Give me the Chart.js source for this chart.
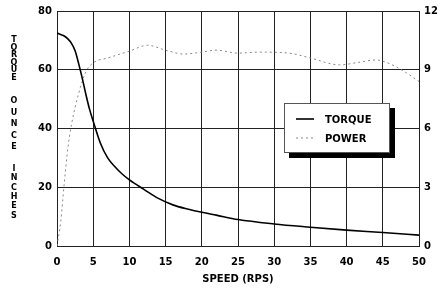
<!DOCTYPE html>
<html>
<head>
<meta charset="utf-8">
<script src="https://cdn.jsdelivr.net/npm/chart.js@4/dist/chart.umd.min.js"></script>
<style>
  html, body { margin: 0; padding: 0; background: #fff; }
  #wrap { width: 444px; height: 289px; }
</style>
</head>
<body>
<div id="wrap"><canvas id="motorChart" width="444" height="289"></canvas></div>
<script>
// torque curve (ounce-inches, left axis)
const torqueSpeed = [0, 0.5, 1, 1.5, 2, 2.5, 3, 3.5, 4, 4.5, 5, 6, 7, 8, 9, 10, 12, 14, 16, 18, 20, 22, 25, 30, 35, 40, 45, 50];
const torqueValues = [72.5, 72, 71.5, 70.5, 69, 66.5, 62, 57, 51.5, 46.5, 42.5, 35, 30, 27, 24.5, 22.5, 19.3, 16.2, 14, 12.6, 11.5, 10.5, 9, 7.5, 6.4, 5.4, 4.6, 3.7];

// power curve (right axis)
const powerSpeed = [0, 0.5, 1, 1.5, 2, 3, 4, 5, 7, 10, 12.5, 15, 17.5, 20, 22, 25, 28, 32, 35, 39, 42, 44, 46, 48, 50];
const powerValues = [0, 1.2, 3.2, 5, 6.2, 7.8, 8.9, 9.35, 9.6, 9.95, 10.25, 10, 9.8, 9.9, 10, 9.85, 9.9, 9.85, 9.6, 9.25, 9.4, 9.5, 9.3, 8.9, 8.4];

// axis ticks
const speedTicks = [0, 5, 10, 15, 20, 25, 30, 35, 40, 45, 50];
const torqueTicks = [0, 20, 40, 60, 80];
const powerTicks = [0, 3, 6, 9, 12];

const seriesNames = ['TORQUE', 'POWER'];
const xTitle = 'SPEED (RPS)';
const yTitleWords = ['TORQUE', 'OUNCE', 'INCHES'];

const tickFont = { family: 'DejaVu Sans', weight: 'bold', size: 10 };

function toPoints(xs, ys) {
  return xs.map((x, i) => ({ x: x, y: ys[i] }));
}

// вертикальная подпись из букв друг под другом + легенда с тенью
const extrasPlugin = {
  id: 'extras',
  afterDraw(chart) {
    const ctx = chart.ctx;
    ctx.save();

    // y title, stacked letters
    ctx.fillStyle = '#000';
    ctx.font = 'bold 8px "DejaVu Sans"';
    ctx.textAlign = 'center';
    ctx.textBaseline = 'middle';
    const wordStart = [40, 101, 169];
    const wordStep = [7.6, 11.5, 9.3];
    yTitleWords.forEach((w, k) => {
      for (let i = 0; i < w.length; i++) {
        ctx.fillText(w[i], 14, wordStart[k] + i * wordStep[k]);
      }
    });

    // legend box
    const bx = 284, by = 103, bw = 106, bh = 50;
    ctx.fillStyle = '#000';
    ctx.fillRect(bx + 5, by + 5, bw, bh);
    ctx.fillStyle = '#fff';
    ctx.fillRect(bx, by, bw, bh);
    ctx.strokeStyle = '#555';
    ctx.lineWidth = 1;
    ctx.strokeRect(bx + 0.5, by + 0.5, bw - 1, bh - 1);

    ctx.font = 'bold 10px "DejaVu Sans"';
    ctx.textAlign = 'left';
    chart.data.datasets.forEach((ds, i) => {
      const ly = by + 16 + i * 19;
      ctx.strokeStyle = ds.borderColor;
      ctx.lineWidth = ds.borderWidth;
      ctx.setLineDash(ds.borderDash || []);
      ctx.beginPath();
      ctx.moveTo(bx + 12, ly);
      ctx.lineTo(bx + 30, ly);
      ctx.stroke();
      ctx.setLineDash([]);
      ctx.fillStyle = '#000';
      ctx.fillText(ds.label, bx + 41, ly + 1);
    });

    ctx.restore();
  }
};

const chartData = {
  datasets: [
    {
      label: seriesNames[0],
      data: toPoints(torqueSpeed, torqueValues),
      yAxisID: 'y',
      borderColor: '#000',
      borderWidth: 1.6,
      pointRadius: 0,
      cubicInterpolationMode: 'monotone'
    },
    {
      label: seriesNames[1],
      data: toPoints(powerSpeed, powerValues),
      yAxisID: 'y1',
      borderColor: '#888',
      borderWidth: 1,
      borderDash: [2, 3],
      pointRadius: 0,
      cubicInterpolationMode: 'monotone'
    }
  ]
};

const chartOptions = {
  responsive: false,
  animation: false,
  layout: { padding: { top: 10, left: 0, right: 0, bottom: 0 } },
  plugins: {
    legend: { display: false },
    tooltip: { enabled: false }
  },
  scales: {
    x: {
      type: 'linear',
      min: 0,
      max: 50,
      afterBuildTicks: (s) => { s.ticks = speedTicks.map(v => ({ value: v })); },
      afterFit: (s) => { s.height = 43; },
      grid: { color: '#222', lineWidth: 1, drawTicks: false },
      border: { color: '#222', width: 1 },
      ticks: { color: '#000', font: tickFont, padding: 10, maxRotation: 0 },
      title: { display: true, text: xTitle, color: '#000', font: tickFont, padding: { top: 0, bottom: 4 } }
    },
    y: {
      position: 'left',
      min: 0,
      max: 80,
      afterBuildTicks: (s) => { s.ticks = torqueTicks.map(v => ({ value: v })); },
      afterFit: (s) => { s.width = 57; },
      grid: { color: '#222', lineWidth: 1, drawTicks: false },
      border: { color: '#222', width: 1 },
      ticks: { color: '#000', font: tickFont, padding: 5 }
    },
    y1: {
      position: 'right',
      min: 0,
      max: 12,
      afterBuildTicks: (s) => { s.ticks = powerTicks.map(v => ({ value: v })); },
      afterFit: (s) => { s.width = 25; },
      grid: { drawOnChartArea: false, drawTicks: false },
      border: { color: '#222', width: 1 },
      ticks: { color: '#000', font: tickFont, padding: 5 }
    }
  }
};

const ctx = document.getElementById('motorChart').getContext('2d');
new Chart(ctx, {
  type: 'line',
  data: chartData,
  options: chartOptions,
  plugins: [extrasPlugin]
});
</script>
</body>
</html>
